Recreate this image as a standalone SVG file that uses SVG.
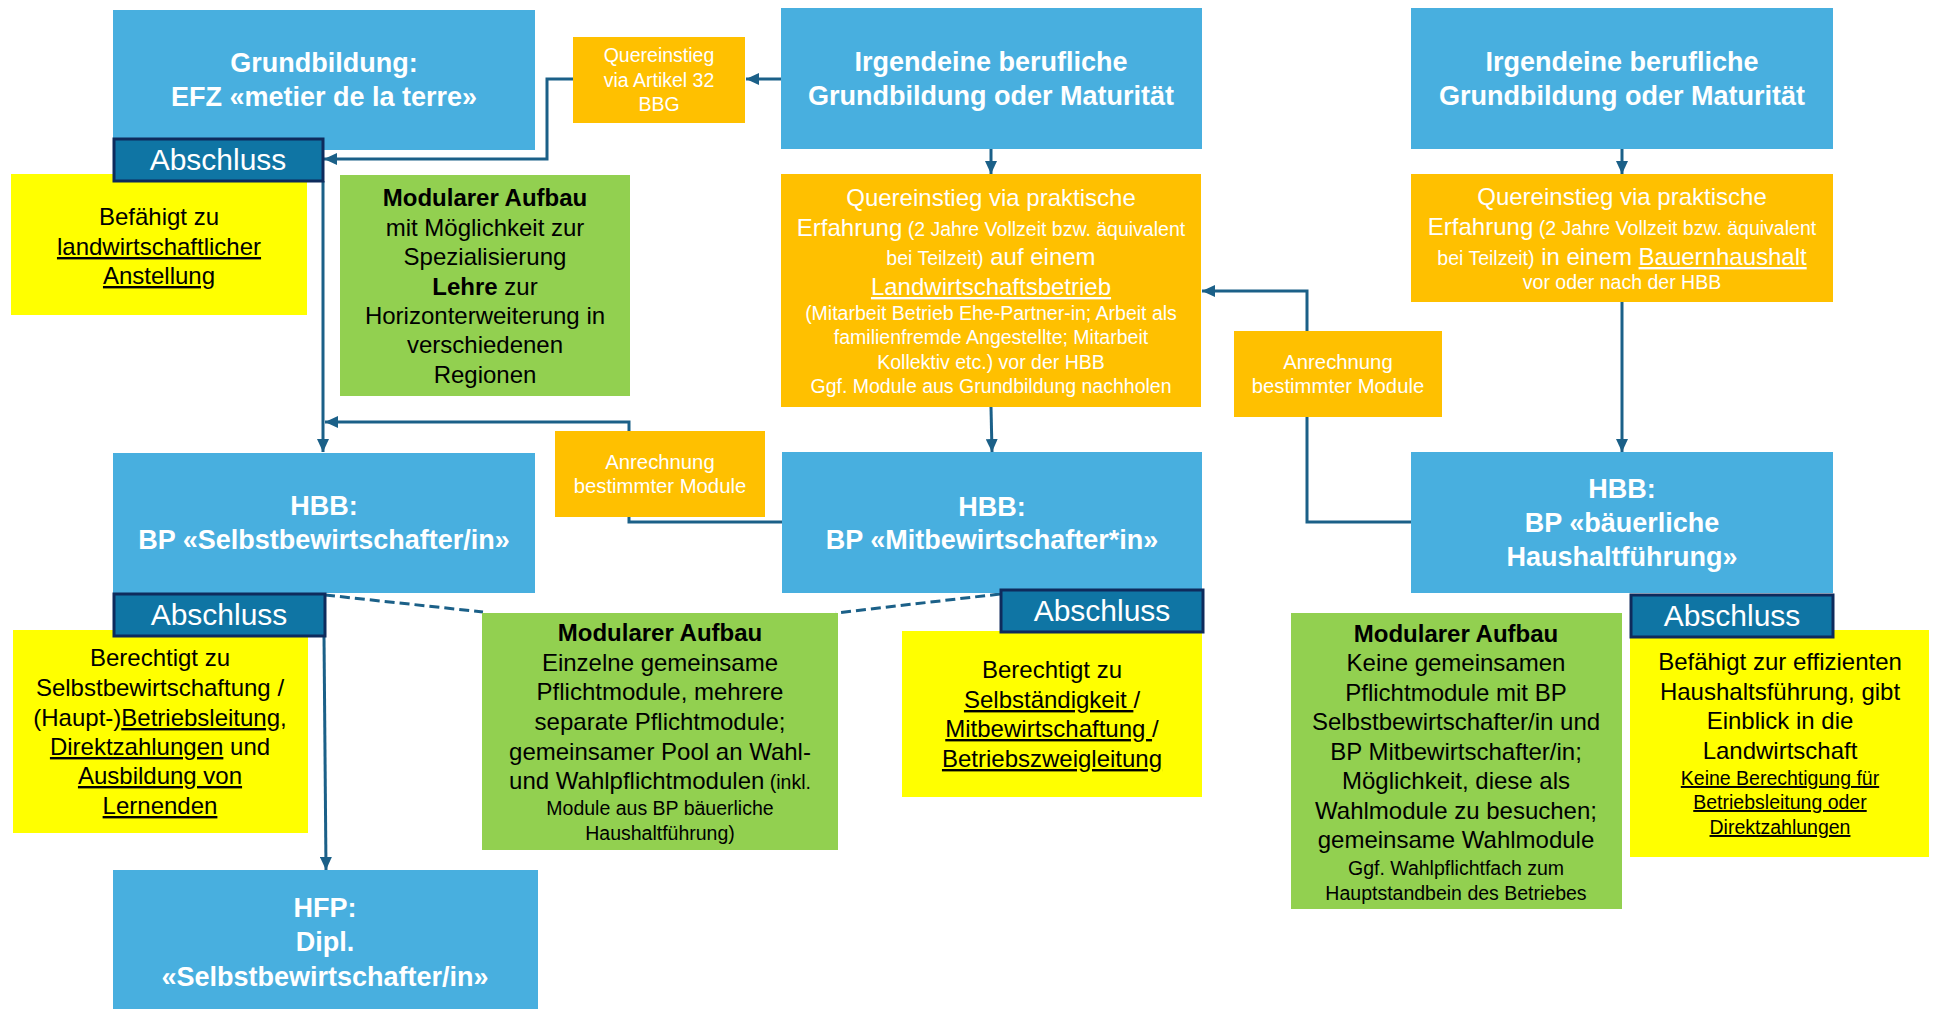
<svg xmlns="http://www.w3.org/2000/svg" width="1933" height="1009" viewBox="0 0 1933 1009">
<defs>
<marker id="ah" markerUnits="userSpaceOnUse" markerWidth="14" markerHeight="12" refX="13" refY="6" orient="auto">
<path d="M0,0 L13,6 L0,12 Z" fill="#1B6088"/>
</marker>
<style>
text{font-family:"Liberation Sans",Arial,sans-serif;text-anchor:middle}
.blue{fill:#48AFDF}
.org{fill:#FFC000}
.grn{fill:#92D050}
.yel{fill:#FFFF00}
.abs{fill:#0F75A4;stroke:#0E2B5C;stroke-width:3}
.ti{font-size:27px;font-weight:bold;fill:#fff}
.w{fill:#fff}
.k{fill:#000}
.m{font-size:24px}
.s{font-size:19.5px}
.an{font-size:20.3px}
.bd{font-weight:bold}
.u{text-decoration:underline}
.ab{font-size:30px;fill:#fff}
.cn{fill:none;stroke:#1B6088;stroke-width:3}
.ds{fill:none;stroke:#1B6088;stroke-width:3;stroke-dasharray:10 5}
</style>
</defs>

<g id="connectors">
<path class="cn" d="M781,79 L746,79" marker-end="url(#ah)"/>
<path class="cn" d="M573,79 L547,79 L547,159 L324,159" marker-end="url(#ah)"/>
<path class="cn" d="M323,181 L323,452" marker-end="url(#ah)"/>
<path class="cn" d="M629,431 L629,422 L325,422" marker-end="url(#ah)"/>
<path class="cn" d="M782,522 L629,522 L629,517"/>
<path class="cn" d="M991,149 L991,174" marker-end="url(#ah)"/>
<path class="cn" d="M991,407 L992,452" marker-end="url(#ah)"/>
<path class="cn" d="M1622,149 L1622,174" marker-end="url(#ah)"/>
<path class="cn" d="M1622,302 L1622,452" marker-end="url(#ah)"/>
<path class="cn" d="M1411,522 L1307,522 L1307,417"/>
<path class="cn" d="M1307,331 L1307,291 L1202,291" marker-end="url(#ah)"/>
<path class="cn" d="M324,636 L326,870" marker-end="url(#ah)"/>
<path class="ds" d="M325,595 L483,612"/>
<path class="ds" d="M1000,594 L836,613"/>
</g>

<g id="grundbildung">
<rect class="blue" x="113" y="10" width="422" height="140"/>
<text class="ti" x="324" y="72">Grundbildung:</text>
<text class="ti" x="324" y="106">EFZ «metier de la terre»</text>
</g>

<g id="quereinstieg-art32">
<rect class="org" x="573" y="37" width="172" height="86"/>
<text class="w s" x="659" y="62">Quereinstieg</text>
<text class="w s" x="659" y="87">via Artikel 32</text>
<text class="w s" x="659" y="111">BBG</text>
</g>

<g id="irgendeine-1">
<rect class="blue" x="781" y="8" width="421" height="141"/>
<text class="ti" x="991" y="71">Irgendeine berufliche</text>
<text class="ti" x="991" y="105">Grundbildung oder Maturität</text>
</g>

<g id="irgendeine-2">
<rect class="blue" x="1411" y="8" width="422" height="141"/>
<text class="ti" x="1622" y="71">Irgendeine berufliche</text>
<text class="ti" x="1622" y="105">Grundbildung oder Maturität</text>
</g>

<g id="quereinstieg-landwirtschaft">
<rect class="org" x="781" y="174" width="420" height="233"/>
<text class="w m" x="991" y="206">Quereinstieg via praktische</text>
<text class="w m" x="991" y="236">Erfahrung<tspan class="s"> (2 Jahre Vollzeit bzw. äquivalent</tspan></text>
<text class="w m" x="991" y="265"><tspan class="s">bei Teilzeit)</tspan> auf einem</text>
<text class="w m u" x="991" y="295">Landwirtschaftsbetrieb</text>
<text class="w s" x="991" y="320">(Mitarbeit Betrieb Ehe-Partner-in; Arbeit als</text>
<text class="w s" x="991" y="344">familienfremde Angestellte; Mitarbeit</text>
<text class="w s" x="991" y="369">Kollektiv etc.) vor der HBB</text>
<text class="w s" x="991" y="393">Ggf. Module aus Grundbildung nachholen</text>
</g>

<g id="quereinstieg-haushalt">
<rect class="org" x="1411" y="174" width="422" height="128"/>
<text class="w m" x="1622" y="205">Quereinstieg via praktische</text>
<text class="w m" x="1622" y="235">Erfahrung<tspan class="s"> (2 Jahre Vollzeit bzw. äquivalent</tspan></text>
<text class="w m" x="1622" y="265"><tspan class="s">bei Teilzeit)</tspan> in einem <tspan class="u">Bauernhaushalt</tspan></text>
<text class="w s" x="1622" y="289">vor oder nach der HBB</text>
</g>

<g id="befaehigt-1">
<rect class="yel" x="11" y="174" width="296" height="141"/>
<text class="k m" x="159" y="225">Befähigt zu</text>
<text class="k m u" x="159" y="255">landwirtschaftlicher</text>
<text class="k m u" x="159" y="284">Anstellung</text>
</g>

<g id="abschluss-1">
<rect class="abs" x="114" y="139" width="209" height="42"/>
<text class="ab" x="218" y="170">Abschluss</text>
</g>

<g id="modular-1">
<rect class="grn" x="340" y="175" width="290" height="221"/>
<text class="k m bd" x="485" y="206">Modularer Aufbau</text>
<text class="k m" x="485" y="236">mit Möglichkeit zur</text>
<text class="k m" x="485" y="265">Spezialisierung</text>
<text class="k m" x="485" y="295"><tspan class="bd">Lehre</tspan> zur</text>
<text class="k m" x="485" y="324">Horizonterweiterung in</text>
<text class="k m" x="485" y="353">verschiedenen</text>
<text class="k m" x="485" y="383">Regionen</text>
</g>

<g id="hbb-selbst">
<rect class="blue" x="113" y="453" width="422" height="140"/>
<text class="ti" x="324" y="515">HBB:</text>
<text class="ti" x="324" y="549">BP «Selbstbewirtschafter/in»</text>
</g>

<g id="berechtigt-1">
<rect class="yel" x="13" y="630" width="295" height="203"/>
<text class="k m" x="160" y="666">Berechtigt zu</text>
<text class="k m" x="160" y="696">Selbstbewirtschaftung /</text>
<text class="k m" x="160" y="726">(Haupt-)<tspan class="u">Betriebsleitung</tspan>,</text>
<text class="k m" x="160" y="755"><tspan class="u">Direktzahlungen</tspan> und</text>
<text class="k m u" x="160" y="784">Ausbildung von</text>
<text class="k m u" x="160" y="814">Lernenden</text>
</g>

<g id="abschluss-2">
<rect class="abs" x="114" y="594" width="211" height="42"/>
<text class="ab" x="219" y="625">Abschluss</text>
</g>

<g id="hfp">
<rect class="blue" x="113" y="870" width="425" height="145"/>
<text class="ti" x="325" y="917">HFP:</text>
<text class="ti" x="325" y="951">Dipl.</text>
<text class="ti" x="325" y="986">«Selbstbewirtschafter/in»</text>
</g>

<g id="anrechnung-1">
<rect class="org" x="555" y="431" width="210" height="86"/>
<text class="w an" x="660" y="469">Anrechnung</text>
<text class="w an" x="660" y="493">bestimmter Module</text>
</g>

<g id="hbb-mit">
<rect class="blue" x="782" y="452" width="420" height="141"/>
<text class="ti" x="992" y="516">HBB:</text>
<text class="ti" x="992" y="549">BP «Mitbewirtschafter*in»</text>
</g>

<g id="modular-2">
<rect class="grn" x="482" y="613" width="356" height="237"/>
<text class="k m bd" x="660" y="641">Modularer Aufbau</text>
<text class="k m" x="660" y="671">Einzelne gemeinsame</text>
<text class="k m" x="660" y="700">Pflichtmodule, mehrere</text>
<text class="k m" x="660" y="730">separate Pflichtmodule;</text>
<text class="k m" x="660" y="760">gemeinsamer Pool an Wahl-</text>
<text class="k m" x="660" y="789">und Wahlpflichtmodulen<tspan class="s"> (inkl.</tspan></text>
<text class="k s" x="660" y="815">Module aus BP bäuerliche</text>
<text class="k s" x="660" y="840">Haushaltführung)</text>
</g>

<g id="berechtigt-2">
<rect class="yel" x="902" y="631" width="300" height="166"/>
<text class="k m" x="1052" y="678">Berechtigt zu</text>
<text class="k m" x="1052" y="708"><tspan class="u">Selbständigkeit </tspan>/</text>
<text class="k m" x="1052" y="737"><tspan class="u">Mitbewirtschaftung </tspan>/</text>
<text class="k m u" x="1052" y="767">Betriebszweigleitung</text>
</g>

<g id="abschluss-3">
<rect class="abs" x="1001" y="590" width="202" height="42"/>
<text class="ab" x="1102" y="621">Abschluss</text>
</g>

<g id="anrechnung-2">
<rect class="org" x="1234" y="331" width="208" height="86"/>
<text class="w an" x="1338" y="369">Anrechnung</text>
<text class="w an" x="1338" y="393">bestimmter Module</text>
</g>

<g id="hbb-haushalt">
<rect class="blue" x="1411" y="452" width="422" height="141"/>
<text class="ti" x="1622" y="498">HBB:</text>
<text class="ti" x="1622" y="532">BP «bäuerliche</text>
<text class="ti" x="1622" y="566">Haushaltführung»</text>
</g>

<g id="modular-3">
<rect class="grn" x="1291" y="613" width="331" height="296"/>
<text class="k m bd" x="1456" y="642">Modularer Aufbau</text>
<text class="k m" x="1456" y="671">Keine gemeinsamen</text>
<text class="k m" x="1456" y="701">Pflichtmodule mit BP</text>
<text class="k m" x="1456" y="730">Selbstbewirtschafter/in und</text>
<text class="k m" x="1456" y="760">BP Mitbewirtschafter/in;</text>
<text class="k m" x="1456" y="789">Möglichkeit, diese als</text>
<text class="k m" x="1456" y="819">Wahlmodule zu besuchen;</text>
<text class="k m" x="1456" y="848">gemeinsame Wahlmodule</text>
<text class="k s" x="1456" y="875">Ggf. Wahlpflichtfach zum</text>
<text class="k s" x="1456" y="900">Hauptstandbein des Betriebes</text>
</g>

<g id="befaehigt-2">
<rect class="yel" x="1630" y="630" width="299" height="227"/>
<text class="k m" x="1780" y="670">Befähigt zur effizienten</text>
<text class="k m" x="1780" y="700">Haushaltsführung, gibt</text>
<text class="k m" x="1780" y="729">Einblick in die</text>
<text class="k m" x="1780" y="759">Landwirtschaft</text>
<text class="k s u" x="1780" y="785">Keine Berechtigung für</text>
<text class="k s u" x="1780" y="809">Betriebsleitung oder</text>
<text class="k s u" x="1780" y="834">Direktzahlungen</text>
</g>

<g id="abschluss-4">
<rect class="abs" x="1631" y="595" width="202" height="42"/>
<text class="ab" x="1732" y="626">Abschluss</text>
</g>
</svg>
